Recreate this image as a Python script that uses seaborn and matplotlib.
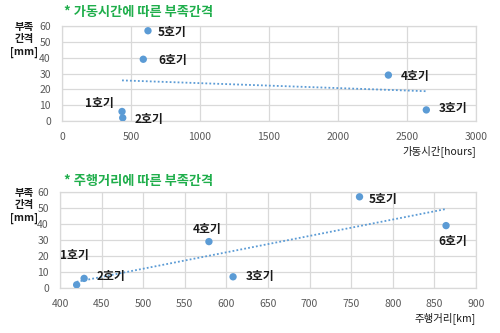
import numpy as np
import pandas as pd
import seaborn as sns
import matplotlib
matplotlib.use("Agg")
import matplotlib.pyplot as plt

sns.set_theme(style="white")
plt.rcParams['font.family'] = ['Noto Sans CJK KR', 'DejaVu Sans']

units = ["1호기", "2호기", "3호기", "4호기", "5호기", "6호기"]
hours = [435, 440, 2640, 2365, 623, 589]
hours_gap = [6, 2, 7, 29, 57, 39]
km = [420, 429, 608, 579, 760, 864]
km_gap = [2, 6, 7, 29, 57, 39]

top_title = "* 가동시간에 따른 부족간격"
bot_title = "* 주행거리에 따른 부족간격"
ylab = "부족\n간격\n[mm]"
top_xlab = "가동시간[hours]"
bot_xlab = "주행거리[km]"

df_top = pd.DataFrame({"unit": units, "x": hours, "y": hours_gap})
df_bot = pd.DataFrame({"unit": units, "x": km, "y": km_gap})

W, H = 500, 333
fig = plt.figure(figsize=(5, 3.33), dpi=100)

def px_axes(l, t, r, b):
    return fig.add_axes([l / W, 1 - b / H, (r - l) / W, (b - t) / H])

ax1 = px_axes(62, 26, 476, 121)
ax2 = px_axes(60, 192, 476, 288)

blue = "#5B9BD5"
green = "#1fae4b"
grid = "#d9d9d9"
tick_c = "#595959"

# offsets in pixels (dx, dy, ha)
top_off = {"1호기": (-8, 8, "right"), "2호기": (12, -2, "left"), "3호기": (12, 1, "left"),
           "4호기": (12, -1, "left"), "5호기": (10, -2, "left"), "6호기": (15, -1, "left")}
bot_off = {"1호기": (-17, 29, "left"), "2호기": (12, 2, "left"), "3호기": (13, 0, "left"),
           "4호기": (-2, 12, "center"), "5호기": (9, -3, "left"), "6호기": (7, -16, "center")}

def draw(ax, df, xlim, xticks, offs):
    sns.regplot(data=df, x="x", y="y", ax=ax, ci=None, scatter=False,
                line_kws=dict(color=blue, lw=1.3, linestyle=(0, (1, 1.2))))
    sns.scatterplot(data=df, x="x", y="y", ax=ax, color=blue, s=28,
                    edgecolor="none", zorder=5)
    for _, r in df.iterrows():
        dx, dy, ha = offs[r["unit"]]
        ax.annotate(r["unit"], (r["x"], r["y"]), xytext=(dx, dy),
                    textcoords="offset pixels", ha=ha, va="center",
                    fontsize=8.5, fontweight="bold", color="#1a1a1a")
    ax.set_xlim(*xlim)
    ax.set_ylim(0, 60)
    ax.set_xticks(xticks)
    ax.set_yticks(range(0, 61, 10))
    ax.grid(True, color=grid, lw=0.9)
    ax.set_axisbelow(True)
    for s in ax.spines.values():
        s.set_color(grid)
        s.set_linewidth(0.9)
    ax.tick_params(axis="both", labelsize=7.5, colors=tick_c, length=0)
    ax.tick_params(axis="x", pad=8)
    ax.tick_params(axis="y", pad=8)
    ax.set_xlabel("")
    ax.set_ylabel("")

draw(ax1, df_top, (0, 3000), range(0, 3001, 500), top_off)
draw(ax2, df_bot, (400, 900), range(400, 901, 50), bot_off)

def ftext(x, y, s, **kw):
    fig.text(x / W, 1 - y / H, s, **kw)

ftext(139, 12, top_title, ha="center", va="center", fontsize=9.5,
      fontweight="bold", color=green)
ftext(139, 181, bot_title, ha="center", va="center", fontsize=9.5,
      fontweight="bold", color=green)
ftext(24, 40, ylab, ha="center", va="center", fontsize=7.5, fontweight="bold",
      style="italic", color="#1a1a1a", linespacing=1.35)
ftext(24, 206, ylab, ha="center", va="center", fontsize=7.5, fontweight="bold",
      style="italic", color="#1a1a1a", linespacing=1.35)
ftext(476, 151, top_xlab, ha="right", va="center", fontsize=7.5,
      style="italic", color="#1a1a1a")
ftext(476, 318, bot_xlab, ha="right", va="center", fontsize=7.5,
      style="italic", color="#1a1a1a")

fig.savefig("out.png", dpi=100)
